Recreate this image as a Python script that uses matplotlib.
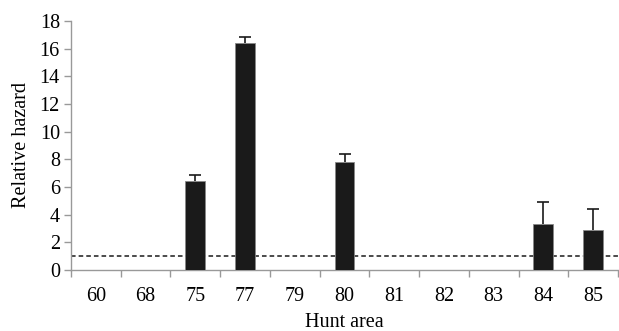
import matplotlib
matplotlib.use("Agg")
import matplotlib.pyplot as plt
import numpy as np

areas = ["60", "68", "75", "77", "79", "80", "81", "82", "83", "84", "85"]
hazard = [0, 0, 6.43, 16.4, 0, 7.8, 0, 0, 0, 3.3, 2.9]
err_upper = [0, 0, 0.45, 0.45, 0, 0.55, 0, 0, 0, 1.65, 1.48]
ref_level = 1.0

plt.rcParams['font.family'] = ['Liberation Serif', 'DejaVu Serif']
fig = plt.figure(figsize=(6.19, 3.31), dpi=100)
ax = fig.add_axes([71/619, 1-270/331, (618-71)/619, (270-21)/331])

x = np.arange(len(areas))
h = np.array(hazard)
e = np.array(err_upper)
mask = h > 0
ax.bar(x[mask], h[mask], width=0.4, color='#1a1a1a', edgecolor='#888888', linewidth=0.6, zorder=3)
eb = ax.errorbar(x[mask], h[mask], yerr=[np.zeros(mask.sum()), e[mask]], fmt='none', ecolor='#1a1a1a',
                 elinewidth=1.2, capsize=4, capthick=1.2, zorder=4)
# hide the lower caps (only upper error shown)
eb[1][0].set_visible(False)
ax.axhline(ref_level, color='#1a1a1a', linestyle=(0, (3, 2)), linewidth=1.1, zorder=2)

ax.set_xlim(-0.5, len(areas) - 0.5)
ax.set_ylim(0, 18)
ax.set_yticks(np.arange(0, 19, 2))
ax.set_xticks(x)
ax.set_xticklabels(areas)
ax.set_xticks(np.arange(-0.5, len(areas), 1), minor=True)
fs = 14.5
ax.tick_params(axis='x', which='major', length=0, pad=12, labelsize=fs)
ax.tick_params(axis='x', which='minor', length=5, color='#999999', direction='out', width=1)
ax.tick_params(axis='y', length=5, color='#999999', width=1, labelsize=fs, pad=3)

for s in ['top', 'right']:
    ax.spines[s].set_visible(False)
for s in ['left', 'bottom']:
    ax.spines[s].set_color('#999999')
    ax.spines[s].set_linewidth(1)

ax.set_xlabel('Hunt area', fontsize=fs, labelpad=5)
ax.set_ylabel('Relative hazard', fontsize=fs, labelpad=6)

fig.savefig('out.png', dpi=100)
